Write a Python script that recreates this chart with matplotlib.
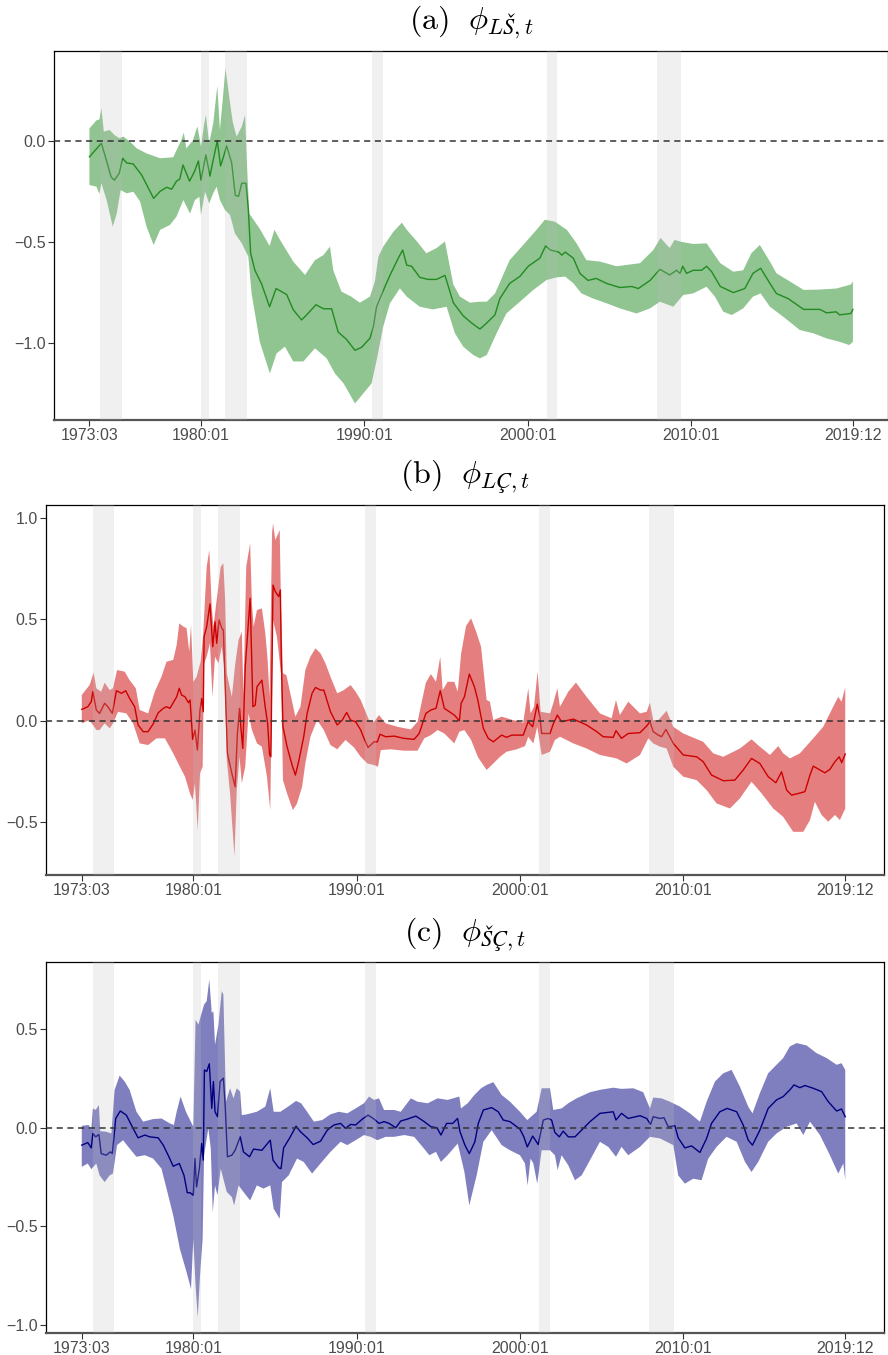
import numpy as np
import matplotlib
matplotlib.use("Agg")
import matplotlib.pyplot as plt

plt.rcParams['font.family'] = ['Liberation Sans', 'DejaVu Sans']
plt.rcParams['mathtext.fontset'] = 'cm'

# ────────────────────────────────────────────────
# Data (decimal years)
# ────────────────────────────────────────────────
xtick_pos    = [1973.17, 1980.0, 1990.0, 2000.0, 2010.0, 2019.92]
xtick_labels = ["1973:03", "1980:01", "1990:01", "2000:01", "2010:01", "2019:12"]

# NBER recessions (start, end)
recessions = [(1973.83, 1975.17), (1980.0, 1980.5), (1981.5, 1982.83),
              (1990.5, 1991.17), (2001.17, 2001.83), (2007.92, 2009.42)]

# (a) phi_LS
a_mid_t = [1973.17, 1973.9, 1974.2, 1974.5, 1974.7, 1975.0, 1975.2, 1975.45, 1975.85, 1976.37,
           1977.1, 1977.5, 1977.9, 1978.2, 1978.5, 1978.7, 1978.9, 1979.3, 1979.6, 1979.84,
           1980.0, 1980.3, 1980.55, 1980.75, 1981.0, 1981.2, 1981.35, 1981.57, 1981.88, 1982.1,
           1982.3, 1982.5, 1982.75, 1982.9, 1983.04, 1983.3, 1983.7, 1984.2, 1984.6, 1985.25,
           1985.65, 1986.16, 1986.47, 1987.04, 1987.5, 1988.0, 1988.4, 1988.9, 1989.43, 1989.84,
           1990.35, 1990.55, 1990.75, 1991.27, 1991.57, 1992.08, 1992.35, 1992.6, 1992.9, 1993.4,
           1993.9, 1994.43, 1994.94, 1995.45, 1996.06, 1996.57, 1997.08, 1997.5, 1998.0, 1998.3,
           1998.9, 1999.53, 2000.04, 2000.75, 2001.1, 2001.4, 2001.9, 2002.1, 2002.3, 2002.8,
           2003.2, 2003.7, 2004.2, 2004.84, 2005.65, 2006.37, 2006.78, 2007.5, 2008.1, 2008.7,
           2009.12, 2009.33, 2009.5, 2009.73, 2010.14, 2010.65, 2010.96, 2011.27, 2011.8, 2012.6,
           2013.3, 2013.8, 2014.27, 2014.84, 2015.24, 2015.96, 2016.9, 2017.9, 2018.3, 2018.9,
           2019.1, 2019.8, 2019.92]
a_mid   = [-0.08, -0.013, -0.095, -0.18, -0.195, -0.16, -0.087, -0.11, -0.115, -0.17,
           -0.285, -0.25, -0.23, -0.24, -0.2, -0.19, -0.12, -0.2, -0.153, -0.1,
           -0.195, -0.07, -0.175, -0.095, 0.0, -0.125, -0.087, -0.026, -0.11, -0.27,
           -0.275, -0.21, -0.21, -0.34, -0.555, -0.64, -0.705, -0.82, -0.73, -0.76,
           -0.835, -0.885, -0.86, -0.81, -0.83, -0.83, -0.945, -0.98, -1.035, -1.02,
           -0.975, -0.92, -0.82, -0.72, -0.665, -0.58, -0.54, -0.615, -0.62, -0.675,
           -0.685, -0.685, -0.665, -0.8, -0.865, -0.9, -0.93, -0.9, -0.86, -0.78,
           -0.705, -0.67, -0.62, -0.58, -0.52, -0.54, -0.55, -0.565, -0.55, -0.58,
           -0.655, -0.69, -0.68, -0.705, -0.725, -0.72, -0.73, -0.69, -0.635, -0.663,
           -0.64, -0.655, -0.62, -0.655, -0.64, -0.64, -0.62, -0.647, -0.72, -0.75,
           -0.73, -0.655, -0.63, -0.705, -0.755, -0.78, -0.833, -0.833, -0.85, -0.845,
           -0.86, -0.853, -0.833]
a_hi_t = [1973.17, 1973.6, 1973.78, 1973.9, 1974.05, 1974.4, 1974.7, 1975.0, 1975.25, 1975.65,
          1976.06, 1976.67, 1977.5, 1978.3, 1978.8, 1978.95, 1979.1, 1979.5, 1979.78, 1979.94,
          1980.0, 1980.2, 1980.3, 1980.5, 1980.75, 1981.0, 1981.16, 1981.33, 1981.5, 1981.73,
          1981.94, 1982.18, 1982.5, 1982.7, 1982.84, 1982.96, 1983.6, 1984.2, 1984.5, 1984.84,
          1985.65, 1986.37, 1986.98, 1987.5, 1987.9, 1988.1, 1988.6, 1989.2, 1989.73, 1990.35,
          1990.65, 1990.86, 1991.16, 1991.78, 1992.3, 1992.6, 1993.2, 1993.8, 1994.43, 1994.94,
          1995.45, 1995.86, 1996.47, 1997.08, 1997.5, 1998.0, 1998.9, 1999.73, 2000.55, 2001.06,
          2001.67, 2002.4, 2003.0, 2003.6, 2004.43, 2005.45, 2006.88, 2007.7, 2008.14, 2008.7,
          2009.0, 2009.43, 2010.14, 2010.96, 2011.8, 2012.6, 2013.2, 2013.7, 2014.22, 2014.84,
          2015.24, 2016.06, 2016.9, 2017.9, 2018.9, 2019.8, 2019.92]
a_hi   = [0.06, 0.10, 0.105, 0.16, 0.045, 0.053, 0.028, 0.012, 0.02, -0.005,
          -0.038, -0.063, -0.087, -0.082, 0.003, 0.04, -0.038, 0.0, 0.07, 0.0,
          -0.03, 0.085, 0.127, -0.013, 0.085, 0.27, 0.053, 0.2, 0.357, 0.217,
          0.094, 0.02, 0.07, 0.127, -0.16, -0.36, -0.435, -0.52, -0.44, -0.49,
          -0.597, -0.663, -0.59, -0.565, -0.523, -0.64, -0.745, -0.77, -0.8, -0.77,
          -0.695, -0.573, -0.523, -0.45, -0.405, -0.44, -0.495, -0.556, -0.53, -0.498,
          -0.71, -0.77, -0.8, -0.795, -0.795, -0.755, -0.59, -0.515, -0.44, -0.39,
          -0.4, -0.44, -0.507, -0.59, -0.597, -0.62, -0.605, -0.54, -0.48, -0.53,
          -0.49, -0.5, -0.51, -0.507, -0.605, -0.647, -0.64, -0.556, -0.515, -0.597,
          -0.655, -0.695, -0.737, -0.735, -0.73, -0.71, -0.695]
a_lo_t = [1973.17, 1973.6, 1973.78, 1973.9, 1974.22, 1974.6, 1974.84, 1975.08, 1975.45, 1975.86,
          1976.27, 1976.67, 1977.1, 1977.5, 1978.1, 1978.5, 1978.92, 1979.33, 1979.63, 1979.9,
          1980.0, 1980.25, 1980.5, 1980.75, 1980.96, 1981.16, 1981.47, 1981.78, 1982.08, 1982.5,
          1982.9, 1983.1, 1983.6, 1984.22, 1984.63, 1985.14, 1985.65, 1986.27, 1986.98, 1987.7,
          1988.2, 1988.73, 1989.43, 1989.94, 1990.45, 1990.76, 1991.16, 1991.57, 1992.18, 1992.6,
          1993.4, 1994.2, 1995.04, 1995.55, 1996.06, 1996.67, 1997.08, 1997.5, 1998.1, 1998.7,
          1999.53, 2000.35, 2001.16, 2001.78, 2002.3, 2002.8, 2003.3, 2004.0, 2004.84, 2005.65,
          2006.67, 2007.5, 2008.1, 2008.92, 2009.53, 2010.14, 2010.96, 2011.47, 2011.98, 2012.5,
          2013.2, 2013.8, 2014.27, 2014.84, 2015.65, 2016.67, 2017.5, 2018.3, 2019.1, 2019.7,
          2019.92]
a_lo   = [-0.219, -0.227, -0.263, -0.21, -0.293, -0.425, -0.36, -0.244, -0.26, -0.252,
          -0.3, -0.425, -0.515, -0.44, -0.416, -0.375, -0.293, -0.36, -0.293, -0.277,
          -0.367, -0.252, -0.31, -0.26, -0.227, -0.293, -0.342, -0.367, -0.458, -0.507,
          -0.573, -0.754, -0.993, -1.149, -1.05, -1.017, -1.09, -1.09, -1.025, -1.075,
          -1.149, -1.198, -1.297, -1.248, -1.198, -1.083, -0.918, -0.803, -0.729, -0.77,
          -0.82, -0.833, -0.82, -0.951, -1.017, -1.058, -1.075, -1.058, -0.951, -0.853,
          -0.795, -0.737, -0.688, -0.675, -0.671, -0.704, -0.754, -0.779, -0.803, -0.828,
          -0.853, -0.828, -0.795, -0.82, -0.762, -0.754, -0.721, -0.77, -0.844, -0.861,
          -0.828, -0.77, -0.754, -0.82, -0.869, -0.935, -0.951, -0.976, -0.993, -1.009,
          -0.993]

# (b) phi_LC
b_mid_t = [1973.17, 1973.54, 1973.75, 1973.85, 1974.06, 1974.26, 1974.57, 1974.77, 1975.04, 1975.29,
           1975.6, 1975.86, 1976.1, 1976.41, 1976.62, 1976.93, 1977.23, 1977.54, 1977.85, 1978.16,
           1978.36, 1978.57, 1978.81, 1978.98, 1979.14, 1979.28, 1979.49, 1979.7, 1979.8, 1979.96,
           1980.1, 1980.25, 1980.41, 1980.51, 1980.61, 1980.66, 1980.82, 1981.02, 1981.19, 1981.33,
           1981.43, 1981.58, 1981.74, 1981.84, 1982.09, 1982.36, 1982.56, 1982.7, 1982.83, 1982.91,
           1983.03, 1983.18, 1983.48, 1983.65, 1983.79, 1983.9, 1984.2, 1984.4, 1984.55, 1984.67,
           1984.75, 1984.88, 1985.02, 1985.23, 1985.33, 1985.39, 1985.49, 1985.74, 1986.05, 1986.25,
           1986.45, 1986.76, 1986.97, 1987.27, 1987.48, 1987.79, 1987.99, 1988.4, 1988.81, 1989.12,
           1989.39, 1989.63, 1989.94, 1990.25, 1990.45, 1990.7, 1991.07, 1991.27, 1991.43, 1991.78,
           1992.3, 1992.9, 1993.52, 1993.83, 1994.24, 1994.55, 1994.86, 1995.12, 1995.37, 1995.98,
           1996.29, 1996.4, 1996.6, 1996.9, 1997.21, 1997.42, 1997.62, 1997.76, 1998.06, 1998.37,
           1998.88, 1999.18, 1999.5, 2000.2, 2000.5, 2000.78, 2001.06, 2001.22, 2001.33, 2001.84,
           2002.04, 2002.29, 2002.55, 2003.27, 2004.08, 2004.7, 2005.1, 2005.71, 2005.88, 2006.22,
           2006.63, 2007.35, 2007.76, 2007.96, 2008.16, 2008.47, 2008.67, 2008.94, 2009.39, 2010.0,
           2010.82, 2011.22, 2011.73, 2012.45, 2013.16, 2013.67, 2014.18, 2014.69, 2015.2, 2015.67,
           2016.02, 2016.33, 2016.63, 2017.04, 2017.45, 2017.76, 2017.96, 2018.37, 2018.67, 2018.98,
           2019.29, 2019.55, 2019.7, 2019.92]
b_mid   = [0.056, 0.069, 0.094, 0.143, 0.053, 0.036, 0.086, 0.069, 0.036, 0.148,
           0.135, 0.148, 0.11, 0.069, -0.021, -0.054, -0.054, -0.016, 0.039, 0.061,
           0.069, 0.061, 0.094, 0.118, 0.16, 0.127, 0.118, 0.089, 0.102, -0.092,
           -0.046, -0.145, 0.053, 0.11, 0.044, 0.414, 0.464, 0.576, 0.365, 0.488,
           0.382, 0.497, 0.456, 0.447, -0.161, -0.26, -0.326, -0.063, 0.061, -0.03,
           -0.137, 0.266, 0.604, 0.069, 0.077, 0.168, 0.2, 0.069, -0.013, -0.169,
           -0.178, 0.669, 0.637, 0.612, 0.645, 0.3, -0.03, -0.128, -0.219, -0.268,
           -0.202, -0.079, 0.036, 0.135, 0.164, 0.151, 0.151, 0.044, -0.021, 0.003,
           0.041, 0.003, -0.005, -0.046, -0.087, -0.132, -0.104, -0.104, -0.067, -0.079,
           -0.076, -0.087, -0.092, -0.063, 0.036, 0.053, 0.061, 0.148, 0.061, 0.028,
           0.0, 0.086, 0.118, 0.23, 0.168, 0.102, 0.02, -0.038, -0.087, -0.104,
           -0.071, -0.082, -0.071, -0.071, -0.005, -0.03, 0.082, 0.02, -0.063, -0.063,
           -0.016, 0.028, -0.005, 0.008, -0.021, -0.054, -0.079, -0.082, -0.049, -0.087,
           -0.063, -0.059, -0.026, -0.005, -0.054, -0.071, -0.079, -0.043, -0.112, -0.169,
           -0.178, -0.202, -0.268, -0.296, -0.293, -0.243, -0.186, -0.211, -0.276, -0.306,
           -0.252, -0.342, -0.367, -0.359, -0.35, -0.268, -0.224, -0.243, -0.257, -0.24,
           -0.202, -0.178, -0.207, -0.164]
b_hi_t = [1973.17, 1973.65, 1973.9, 1974.06, 1974.36, 1974.57, 1974.88, 1975.08, 1975.33, 1975.8,
          1976.1, 1976.48, 1976.72, 1977.23, 1977.64, 1978.05, 1978.36, 1978.77, 1978.98, 1979.14,
          1979.39, 1979.59, 1979.75, 1979.86, 1980.0, 1980.2, 1980.45, 1980.6, 1980.82, 1980.98,
          1981.13, 1981.23, 1981.48, 1981.68, 1981.84, 1981.95, 1982.05, 1982.36, 1982.56, 1982.77,
          1982.97, 1983.07, 1983.24, 1983.48, 1983.59, 1983.69, 1983.9, 1984.2, 1984.41, 1984.55,
          1984.67, 1984.82, 1984.88, 1985.02, 1985.29, 1985.37, 1985.49, 1985.7, 1985.94, 1986.25,
          1986.56, 1986.86, 1987.17, 1987.48, 1987.79, 1988.09, 1988.4, 1988.81, 1989.22, 1989.63,
          1989.94, 1990.25, 1990.55, 1990.76, 1991.07, 1991.37, 1991.78, 1992.5, 1993.32, 1993.73,
          1994.24, 1994.55, 1994.86, 1995.12, 1995.27, 1995.57, 1995.98, 1996.19, 1996.4, 1996.7,
          1997.01, 1997.32, 1997.62, 1997.96, 1998.16, 1998.37, 1998.88, 1999.59, 2000.2, 2000.51,
          2000.65, 2000.86, 2001.08, 2001.27, 2001.84, 2002.04, 2002.29, 2002.45, 2002.96, 2003.43,
          2004.08, 2004.9, 2005.61, 2005.88, 2006.12, 2006.63, 2007.35, 2007.76, 2007.96, 2008.16,
          2008.47, 2008.98, 2009.39, 2010.0, 2011.22, 2011.84, 2012.45, 2013.47, 2014.18, 2014.69,
          2015.31, 2015.82, 2016.12, 2016.53, 2017.14, 2017.96, 2018.57, 2019.18, 2019.49, 2019.69,
          2019.92]
b_hi   = [0.127, 0.176, 0.237, 0.16, 0.143, 0.188, 0.151, 0.16, 0.25, 0.242,
          0.2, 0.16, 0.053, 0.036, 0.143, 0.217, 0.291, 0.3, 0.373, 0.48,
          0.464, 0.456, 0.34, 0.472, 0.192, 0.217, 0.291, 0.423, 0.76, 0.842,
          0.563, 0.464, 0.628, 0.76, 0.776, 0.595, 0.234, 0.118, 0.275, 0.398,
          0.439, 0.127, 0.76, 0.875, 0.579, 0.464, 0.546, 0.554, 0.431, 0.3,
          0.118, 0.924, 0.974, 0.891, 0.941, 0.563, 0.234, 0.225, 0.135, 0.02,
          0.069, 0.25, 0.316, 0.357, 0.332, 0.283, 0.217, 0.135, 0.151, 0.176,
          0.143, 0.102, 0.044, 0.003, -0.005, 0.028, -0.013, -0.03, -0.043, -0.005,
          0.188, 0.23, 0.192, 0.316, 0.151, 0.192, 0.192, 0.143, 0.332, 0.467,
          0.505, 0.439, 0.365, 0.102, 0.094, 0.003, 0.02, 0.003, -0.01, 0.16,
          0.036, 0.069, 0.242, 0.044, 0.036, 0.086, 0.16, 0.069, 0.143, 0.188,
          0.118, 0.036, 0.012, 0.102, 0.028, 0.094, 0.036, 0.044, 0.089, 0.003,
          0.003, 0.049, -0.03, -0.063, -0.104, -0.161, -0.178, -0.137, -0.092, -0.128,
          -0.169, -0.125, -0.161, -0.186, -0.161, -0.087, -0.03, 0.069, 0.118, 0.094,
          0.164]
b_lo_t = [1973.17, 1973.65, 1974.06, 1974.26, 1974.57, 1974.88, 1975.08, 1975.39, 1975.9, 1976.31,
          1976.72, 1977.23, 1977.75, 1978.26, 1978.77, 1979.18, 1979.49, 1979.8, 1979.96, 1980.1,
          1980.27, 1980.41, 1980.57, 1980.66, 1980.82, 1981.02, 1981.17, 1981.33, 1981.54, 1981.74,
          1981.89, 1982.05, 1982.25, 1982.52, 1982.66, 1982.83, 1982.97, 1983.18, 1983.38, 1983.59,
          1983.9, 1984.2, 1984.51, 1984.71, 1984.88, 1985.12, 1985.37, 1985.49, 1985.74, 1986.1,
          1986.35, 1986.66, 1986.86, 1987.17, 1987.58, 1987.99, 1988.4, 1988.81, 1989.32, 1989.84,
          1990.25, 1990.66, 1991.07, 1991.31, 1991.48, 1992.09, 1992.91, 1993.73, 1994.14, 1994.55,
          1994.96, 1995.37, 1995.98, 1996.29, 1996.6, 1997.01, 1997.42, 1997.55, 1997.96, 1998.37,
          1998.78, 1999.18, 1999.8, 2000.31, 2000.51, 2000.82, 2001.06, 2001.33, 2001.84, 2002.14,
          2002.45, 2003.27, 2004.08, 2004.9, 2005.92, 2006.53, 2007.35, 2007.86, 2008.16, 2008.57,
          2008.98, 2009.39, 2010.0, 2010.82, 2011.43, 2012.04, 2012.86, 2013.47, 2014.18, 2014.8,
          2015.51, 2016.12, 2016.73, 2017.35, 2017.76, 2018.06, 2018.47, 2018.88, 2019.29, 2019.59,
          2019.92]
b_lo   = [-0.013, 0.003, -0.046, -0.046, -0.013, -0.038, -0.013, 0.044, 0.036, -0.013,
          -0.112, -0.12, -0.087, -0.087, -0.161, -0.227, -0.276, -0.359, -0.391, -0.309,
          -0.539, -0.26, -0.227, 0.283, 0.316, 0.382, 0.118, 0.316, 0.283, 0.365,
          0.266, -0.194, -0.359, -0.671, -0.342, -0.178, -0.309, -0.227, 0.036, -0.046,
          -0.112, -0.128, -0.276, -0.441, 0.497, 0.414, 0.234, -0.293, -0.359, -0.441,
          -0.408, -0.326, -0.211, -0.079, 0.003, -0.046, -0.12, -0.141, -0.095, -0.132,
          -0.178, -0.211, -0.219, -0.227, -0.145, -0.141, -0.148, -0.148, -0.087, -0.071,
          -0.046, -0.063, -0.112, -0.054, -0.046, -0.095, -0.178, -0.194, -0.243, -0.211,
          -0.178, -0.153, -0.141, -0.125, -0.079, -0.112, -0.03, -0.169, -0.153, -0.095,
          -0.079, -0.112, -0.137, -0.169, -0.186, -0.211, -0.169, -0.087, -0.112, -0.128,
          -0.137, -0.227, -0.276, -0.293, -0.342, -0.408, -0.433, -0.383, -0.301, -0.359,
          -0.433, -0.474, -0.548, -0.548, -0.49, -0.4, -0.465, -0.498, -0.465, -0.49,
          -0.433]

# (c) phi_SC
c_mid_t = [1973.17, 1973.54, 1973.75, 1973.85, 1974.02, 1974.22, 1974.36, 1974.67, 1974.92, 1975.04,
           1975.25, 1975.53, 1975.9, 1976.31, 1976.62, 1977.03, 1977.34, 1977.85, 1978.16, 1978.46,
           1978.77, 1979.14, 1979.43, 1979.63, 1979.8, 1980.0, 1980.1, 1980.2, 1980.37, 1980.51,
           1980.61, 1980.68, 1980.82, 1980.98, 1981.13, 1981.23, 1981.33, 1981.48, 1981.64, 1981.84,
           1981.95, 1982.09, 1982.36, 1982.56, 1982.87, 1983.07, 1983.44, 1983.69, 1984.2, 1984.71,
           1984.88, 1985.23, 1985.37, 1985.53, 1985.94, 1986.29, 1986.56, 1986.97, 1987.34, 1987.79,
           1988.2, 1988.61, 1989.02, 1989.32, 1989.63, 1989.94, 1990.35, 1990.7, 1991.07, 1991.37,
           1991.68, 1991.99, 1992.4, 1992.7, 1993.11, 1993.63, 1994.14, 1994.55, 1994.92, 1995.16,
           1995.51, 1995.88, 1996.18, 1996.33, 1996.63, 1996.9, 1997.24, 1997.45, 1997.76, 1998.27,
           1998.67, 1998.98, 1999.39, 2000.0, 2000.24, 2000.45, 2000.78, 2001.12, 2001.43, 2001.73,
           2001.94, 2002.14, 2002.41, 2002.65, 2002.96, 2003.37, 2003.78, 2004.29, 2004.9, 2005.71,
           2005.88, 2006.22, 2006.63, 2007.35, 2007.76, 2008.0, 2008.16, 2008.57, 2008.82, 2009.08,
           2009.49, 2009.69, 2010.1, 2010.51, 2011.02, 2011.43, 2011.73, 2012.24, 2012.69, 2013.27,
           2013.67, 2013.98, 2014.24, 2014.69, 2015.2, 2015.71, 2016.12, 2016.53, 2016.78, 2017.14,
           2017.45, 2017.96, 2018.47, 2018.88, 2019.39, 2019.69, 2019.92]
c_mid   = [-0.088, -0.075, -0.102, -0.029, -0.046, -0.034, -0.131, -0.139, -0.122, -0.131,
           0.047, 0.085, 0.064, -0.003, -0.051, -0.037, -0.046, -0.051, -0.088, -0.139,
           -0.195, -0.181, -0.241, -0.329, -0.329, -0.342, -0.156, -0.3, -0.207, -0.08,
           -0.164, 0.293, 0.285, 0.324, 0.098, 0.234, 0.081, 0.056, 0.234, 0.251,
           0.115, -0.147, -0.139, -0.114, -0.046, -0.122, -0.147, -0.108, -0.114, -0.063,
           -0.164, -0.203, -0.207, -0.102, -0.046, 0.008, -0.02, -0.051, -0.085, -0.068,
           -0.012, 0.014, 0.022, -0.003, 0.017, 0.014, 0.044, 0.064, 0.044, 0.022,
           0.031, 0.022, 0.0, 0.034, 0.044, 0.059, 0.031, 0.005, 0.0, -0.037,
           0.022, 0.022, 0.047, -0.02, -0.088, -0.131, -0.071, 0.022, 0.09, 0.102,
           0.081, 0.039, 0.031, -0.007, -0.046, -0.097, -0.042, -0.085, 0.039, 0.047,
           0.039, -0.024, -0.046, -0.017, -0.046, -0.046, -0.012, 0.031, 0.073, 0.081,
           0.039, 0.073, 0.047, 0.061, 0.047, 0.017, 0.056, 0.047, 0.051, 0.005,
           0.01, -0.051, -0.102, -0.092, -0.125, -0.054, 0.022, 0.081, 0.098, 0.081,
           0.014, -0.063, -0.088, -0.012, 0.098, 0.141, 0.158, 0.192, 0.217, 0.203,
           0.214, 0.2, 0.183, 0.132, 0.085, 0.095, 0.056]
c_hi_t = [1973.17, 1973.6, 1973.75, 1973.85, 1974.02, 1974.22, 1974.3, 1974.67, 1974.98, 1975.18,
          1975.49, 1975.8, 1976.1, 1976.52, 1976.93, 1977.54, 1978.05, 1978.57, 1978.81, 1978.98,
          1979.22, 1979.55, 1979.8, 1980.0, 1980.14, 1980.31, 1980.51, 1980.66, 1980.82, 1980.98,
          1981.13, 1981.23, 1981.33, 1981.54, 1981.74, 1981.84, 1982.0, 1982.25, 1982.46, 1982.66,
          1982.87, 1982.97, 1983.28, 1983.89, 1984.41, 1984.71, 1984.92, 1985.33, 1985.64, 1985.94,
          1986.29, 1986.6, 1986.97, 1987.38, 1987.89, 1988.4, 1988.91, 1989.43, 1989.94, 1990.45,
          1990.76, 1991.07, 1991.37, 1991.68, 1992.3, 1992.7, 1993.32, 1993.73, 1994.35, 1994.96,
          1995.57, 1996.29, 1996.39, 1996.8, 1997.21, 1997.62, 1997.96, 1998.37, 1998.88, 1999.39,
          2000.0, 2000.45, 2001.02, 2001.33, 2001.84, 2002.04, 2002.55, 2002.96, 2003.47, 2004.29,
          2004.9, 2005.71, 2006.22, 2006.94, 2007.55, 2007.96, 2008.16, 2008.67, 2009.18, 2009.8,
          2010.41, 2011.02, 2011.43, 2011.94, 2012.45, 2012.96, 2013.47, 2013.98, 2014.24, 2014.69,
          2015.2, 2015.71, 2016.12, 2016.53, 2016.94, 2017.55, 2018.16, 2018.78, 2019.39, 2019.69,
          2019.92]
c_hi   = [0.01, 0.014, -0.012, 0.098, 0.09, 0.115, -0.017, -0.02, -0.029, 0.192,
          0.264, 0.234, 0.192, 0.081, 0.031, 0.044, 0.047, 0.022, 0.014, 0.081,
          0.158, 0.081, 0.039, 0.005, 0.547, 0.522, 0.581, 0.624, 0.641, 0.751,
          0.581, 0.59, 0.42, 0.522, 0.692, 0.675, 0.132, 0.2, 0.149, 0.2,
          0.183, 0.064, 0.068, 0.081, 0.107, 0.2, 0.081, 0.081, 0.098, 0.115,
          0.136, 0.124, 0.081, 0.031, 0.039, 0.068, 0.081, 0.073, 0.098, 0.124,
          0.158, 0.141, 0.149, 0.09, 0.09, 0.081, 0.149, 0.132, 0.124, 0.149,
          0.141, 0.158, 0.098, 0.124, 0.166, 0.2, 0.217, 0.231, 0.166, 0.132,
          0.081, 0.039, 0.081, 0.2, 0.2, 0.09, 0.098, 0.124, 0.149, 0.18,
          0.192, 0.203, 0.197, 0.2, 0.18, 0.098, 0.153, 0.149, 0.132, 0.107,
          0.073, 0.031, 0.132, 0.234, 0.276, 0.293, 0.208, 0.107, 0.073, 0.175,
          0.276, 0.319, 0.353, 0.412, 0.429, 0.417, 0.378, 0.353, 0.319, 0.327,
          0.293]
c_lo_t = [1973.17, 1973.54, 1973.75, 1974.06, 1974.26, 1974.57, 1974.88, 1975.08, 1975.33, 1975.7,
          1976.1, 1976.52, 1977.03, 1977.54, 1978.05, 1978.36, 1978.77, 1979.18, 1979.59, 1979.86,
          1980.0, 1980.14, 1980.27, 1980.41, 1980.57, 1980.66, 1980.92, 1981.07, 1981.19, 1981.33,
          1981.48, 1981.68, 1981.89, 1982.05, 1982.36, 1982.5, 1982.77, 1983.07, 1983.48, 1983.89,
          1984.3, 1984.71, 1984.92, 1985.29, 1985.43, 1985.84, 1986.35, 1986.76, 1987.27, 1987.79,
          1988.4, 1989.02, 1989.43, 1989.94, 1990.45, 1990.86, 1991.27, 1991.78, 1992.3, 1992.91,
          1993.52, 1994.04, 1994.45, 1994.86, 1995.16, 1995.57, 1996.19, 1996.6, 1996.9, 1997.35,
          1997.76, 1998.27, 1998.88, 1999.39, 2000.0, 2000.31, 2000.47, 2000.65, 2000.82, 2001.06,
          2001.33, 2001.84, 2002.14, 2002.31, 2002.55, 2002.96, 2003.37, 2003.78, 2004.29, 2004.9,
          2005.41, 2005.88, 2006.22, 2006.63, 2007.35, 2007.96, 2008.57, 2009.39, 2009.69, 2010.1,
          2010.61, 2011.12, 2011.53, 2012.04, 2012.65, 2013.27, 2013.78, 2014.18, 2014.59, 2015.2,
          2015.71, 2016.33, 2016.94, 2017.35, 2017.76, 2018.37, 2018.98, 2019.49, 2019.8, 2019.92]
c_lo   = [-0.198, -0.181, -0.21, -0.181, -0.241, -0.275, -0.241, -0.232, -0.088, -0.063,
          -0.105, -0.147, -0.139, -0.156, -0.207, -0.308, -0.444, -0.614, -0.732, -0.817,
          -0.563, -0.8, -0.961, -0.749, -0.563, -0.139, -0.003, -0.105, -0.427, -0.292,
          -0.342, -0.207, -0.275, -0.325, -0.351, -0.393, -0.292, -0.325, -0.368, -0.292,
          -0.308, -0.292, -0.41, -0.461, -0.275, -0.241, -0.156, -0.173, -0.232, -0.181,
          -0.122, -0.071, -0.088, -0.063, -0.037, -0.046, -0.063, -0.046, -0.046, -0.037,
          -0.046, -0.097, -0.139, -0.122, -0.173, -0.139, -0.08, -0.224, -0.393, -0.241,
          -0.071, -0.012, -0.088, -0.114, -0.139, -0.181, -0.292, -0.156, -0.181, -0.283,
          -0.114, -0.114, -0.139, -0.214, -0.139, -0.19, -0.266, -0.241, -0.164, -0.071,
          -0.097, -0.147, -0.097, -0.139, -0.097, -0.046, -0.054, -0.088, -0.241, -0.283,
          -0.258, -0.266, -0.156, -0.097, -0.046, -0.071, -0.173, -0.224, -0.173, -0.071,
          -0.029, 0.005, 0.022, -0.037, 0.031, -0.037, -0.139, -0.232, -0.181, -0.266]

panels = [
    dict(title=r'$\mathrm{(a)}\ \ \phi_{LŠ,t}$', mid=(a_mid_t, a_mid), hi=(a_hi_t, a_hi),
         lo=(a_lo_t, a_lo), line='#228B22', fill='#228B22', yticks=[0.0, -0.5, -1.0],
         ylim=(-1.379, 0.444), xlim=(1971.0, 2022.05), rect=[54, 50.7, 887.7, 420]),
    dict(title=r'$\mathrm{(b)}\ \ \phi_{LÇ,t}$', mid=(b_mid_t, b_mid), hi=(b_hi_t, b_hi),
         lo=(b_lo_t, b_lo), line='#CD0000', fill='#CD0000', yticks=[1.0, 0.5, 0.0, -0.5],
         ylim=(-0.761, 1.064), xlim=(1970.98, 2022.31), rect=[46, 505, 884.3, 875]),
    dict(title=r'$\mathrm{(c)}\ \ \phi_{ŠÇ,t}$', mid=(c_mid_t, c_mid), hi=(c_hi_t, c_hi),
         lo=(c_lo_t, c_lo), line='#000080', fill='#000080', yticks=[0.5, 0.0, -0.5, -1.0],
         ylim=(-1.038, 0.838), xlim=(1970.98, 2022.31), rect=[46, 962.3, 884.3, 1332.7]),
]

W, H = 888, 1355
fig = plt.figure(figsize=(W / 100, H / 100), dpi=100)

for p in panels:
    x0, y0, x1, y1 = p['rect']
    ax = fig.add_axes([x0 / W, 1 - y1 / H, (x1 - x0) / W, (y1 - y0) / H])

    hi_t, hi = p['hi']
    lo_t, lo = p['lo']
    ax.fill(np.r_[hi_t, lo_t[::-1]], np.r_[hi, lo[::-1]],
            color=p['fill'], alpha=0.5, lw=0, zorder=1)
    ax.plot(*p['mid'], color=p['line'], lw=1.0, zorder=2)

    for s, e in recessions:
        ax.axvspan(s, e, color='#BEBEBE', alpha=0.22, lw=0, zorder=3)

    ax.axhline(0, color='#333333', lw=1.1, ls=(0, (4, 3)), zorder=4)

    ax.set_xlim(*p['xlim'])
    ax.set_ylim(*p['ylim'])
    ax.set_xticks(xtick_pos)
    ax.set_xticklabels(xtick_labels)
    ax.set_yticks(p['yticks'])
    ax.set_yticklabels([f"{v:.1f}".replace('-', '\u2212') for v in p['yticks']])
    ax.tick_params(axis='both', labelsize=11.5, labelcolor='#4D4D4D', color='#333333',
                   length=4, width=0.8, pad=2)

    for side in ['top', 'left', 'right']:
        ax.spines[side].set_color('black')
        ax.spines[side].set_linewidth(0.9)
    ax.spines['bottom'].set_color('#555555')
    ax.spines['bottom'].set_linewidth(1.6)

    fig.text((x0 + x1) / 2 / W, 1 - (y0 - 28) / H, p['title'], ha='center', va='center',
             fontsize=23)

fig.savefig("out.png", dpi=100)
